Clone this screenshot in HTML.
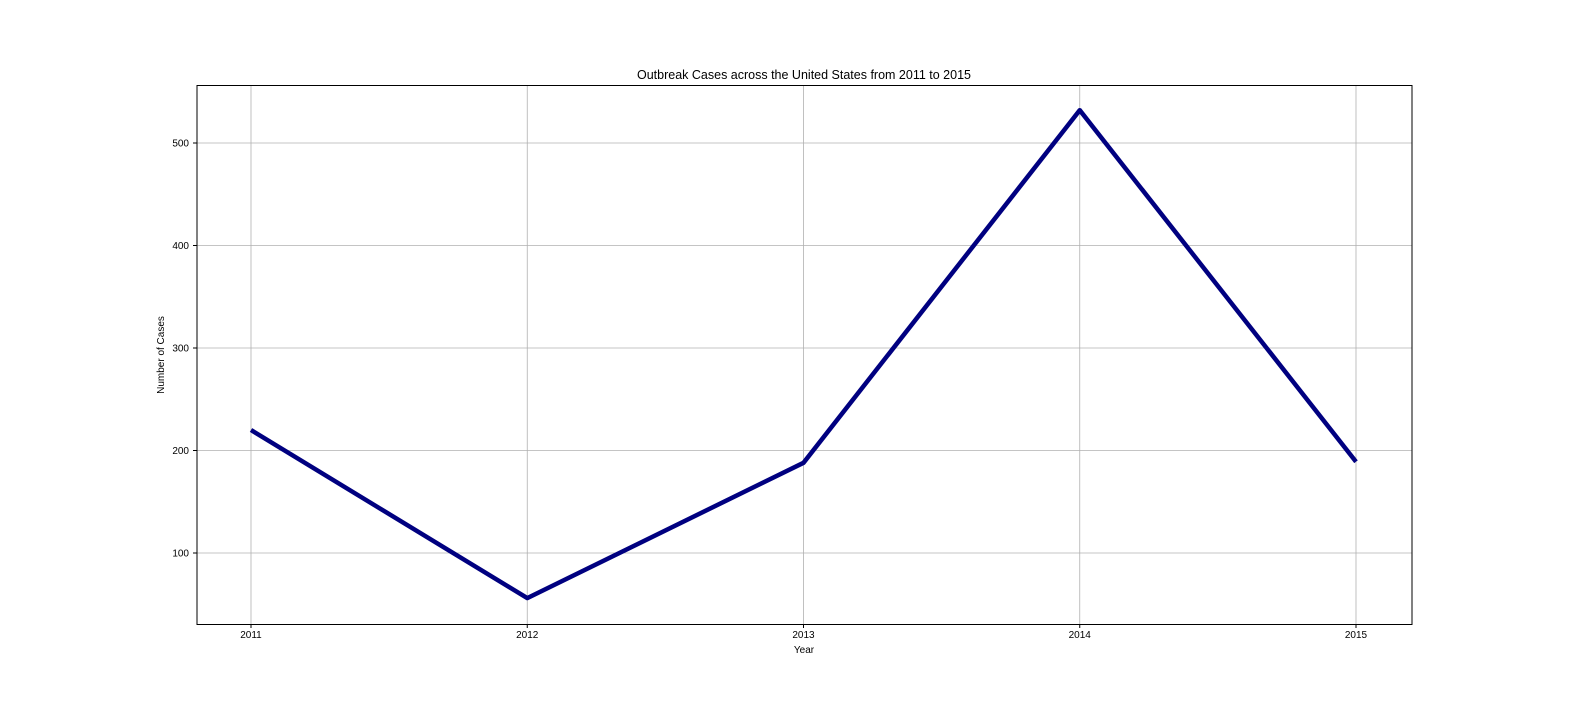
<!DOCTYPE html>
<html><head><meta charset="utf-8"><style>
html,body{margin:0;padding:0;background:#fff;overflow:hidden;width:1584px;height:720px;}
svg{display:block;font-family:"Liberation Sans",sans-serif;}
</style></head><body>
<svg id="chart" width="1584" height="720">
<rect width="1584" height="720" fill="#fff"/>
<text x="804" y="79" text-anchor="middle" font-size="12.5">Outbreak Cases across the United States from 2011 to 2015</text>
<g id="grid"></g>
<g id="ticks"></g>
<polyline id="series" fill="none" stroke="#000080" stroke-width="4.5" stroke-linejoin="round"/>
<rect x="197" y="85.5" width="1215" height="539" fill="none" stroke="#000" stroke-width="1"/>
<text x="804" y="653" text-anchor="middle" font-size="10">Year</text>
<text transform="translate(164,355) rotate(-90)" text-anchor="middle" font-size="10">Number of Cases</text>
</svg>
<script>
const years = [2011, 2012, 2013, 2014, 2015];
const cases = [220, 56, 188, 532, 189];
const yTicks = [100, 200, 300, 400, 500];
const NS = "http://www.w3.org/2000/svg";
function xs(v){return 251 + (v - 2011) * 276.25;}
function ys(v){return 655.5 - v * 1.025;}
const grid = document.getElementById('grid');
const ticks = document.getElementById('ticks');
function mk(tag, attrs, parent){const e=document.createElementNS(NS,tag);for(const k in attrs)e.setAttribute(k,attrs[k]);parent.appendChild(e);return e;}
years.forEach(yr=>{
  const x=xs(yr);
  const g=mk('line',{x1:x,x2:x,y1:85,y2:624,stroke:'#b0b0b0','stroke-width':0.8},grid);
  
  
  mk('line',{x1:x,x2:x,y1:624,y2:628,stroke:'#000'},ticks);
  const t=mk('text',{x:x,y:638,'text-anchor':'middle','font-size':10},ticks);
  t.textContent=yr;
  
  
});
yTicks.forEach(v=>{
  const y=ys(v);
  const g=mk('line',{x1:197,x2:1412,y1:y,y2:y,stroke:'#b0b0b0','stroke-width':0.8},grid);
  
  
  mk('line',{x1:193,x2:197,y1:y,y2:y,stroke:'#000'},ticks);
  const t=mk('text',{x:189,y:y+3.5,'text-anchor':'end','font-size':10},ticks);
  t.textContent=v;
  
  
});
document.getElementById('series').setAttribute('points', years.map((yr,i)=>xs(yr)+','+ys(cases[i])).join(' '));
</script>
</body></html>
